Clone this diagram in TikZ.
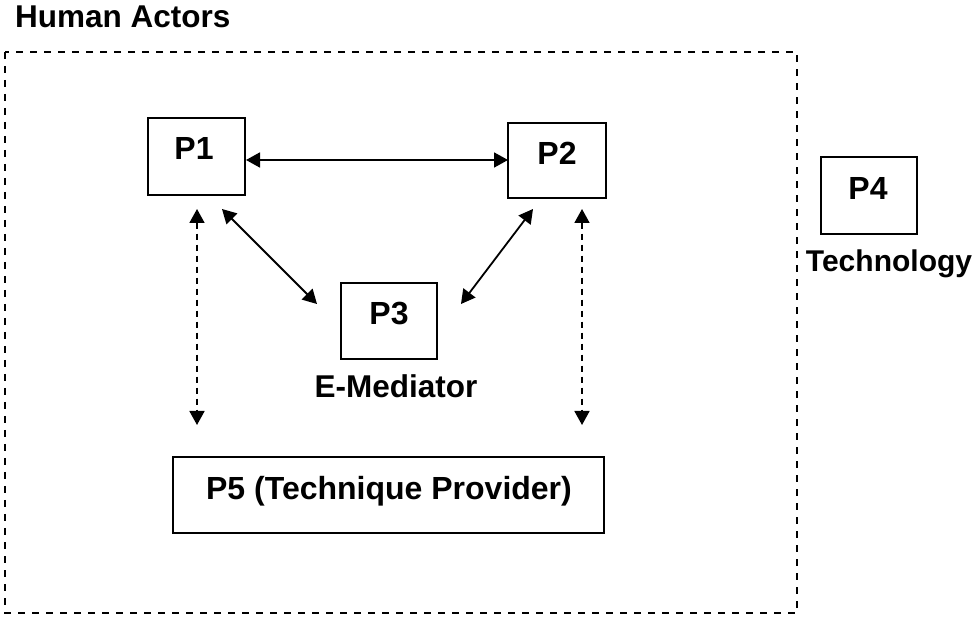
\documentclass[tikz,border=0pt]{standalone}
\usepackage{fontspec}
\setmainfont{Liberation Sans}
\usetikzlibrary{arrows.meta}
\tikzset{
  pbox/.style={draw=black, line width=1.8pt, inner sep=0pt, fill=white},
  lbl/.style={font=\fontsize{32}{38}\selectfont\bfseries, inner sep=0pt, anchor=base},
  dbl/.style={line width=1.8pt, {Triangle[length=14pt,width=15pt]}-{Triangle[length=14pt,width=15pt]}},
  dashdbl/.style={dbl, dash pattern=on 6pt off 5pt},
  frame/.style={draw=black, line width=1.8pt, dash pattern=on 7pt off 7pt}
}
\begin{document}
\begin{tikzpicture}[x=1pt,y=-1pt]
\useasboundingbox (0,0) rectangle (978,617);
% frame
\draw[frame] (5,52) rectangle (797,613);
\node[lbl, anchor=base west, font=\fontsize{31.5}{38}\selectfont\bfseries] (ha) at (15,28) {Human Actors};
% boxes
\node[pbox, minimum width=97pt, minimum height=77pt] (p1) at (196.5,156.5) {};
\node[lbl] (p1t) at (194,160) {P1};
\node[pbox, minimum width=98pt, minimum height=75pt] (p2) at (557,160.5) {};
\node[lbl] (p2t) at (557,165) {P2};
\node[pbox, minimum width=96pt, minimum height=76pt] (p3) at (389,321) {};
\node[lbl] (p3t) at (389,325) {P3};
\node[lbl, font=\fontsize{31.5}{38}\selectfont\bfseries] (em) at (396,398) {E-Mediator};
\node[pbox, minimum width=96pt, minimum height=77pt] (p4) at (869,195.5) {};
\node[lbl] (p4t) at (868,200) {P4};
\node[lbl, font=\fontsize{30}{36}\selectfont\bfseries] (tech) at (889,272) {Technology};
\node[pbox, minimum width=431pt, minimum height=76pt] (p5) at (388.5,495) {};
\node[lbl] (p5t) at (389,500) {P5 (Technique Provider)};
% connector endpoints
\coordinate (h1) at (246,160);
\coordinate (h2) at (508,160);
\coordinate (a1) at (222,209);
\coordinate (a2) at (317,304);
\coordinate (b1) at (533,209);
\coordinate (b2) at (461,304);
\coordinate (c1) at (197,209);
\coordinate (c2) at (197,425);
\coordinate (d1) at (582,209);
\coordinate (d2) at (582,425);
\draw[dbl] (h1) -- (h2);
\draw[dbl] (a1) -- (a2);
\draw[dbl] (b1) -- (b2);
\draw[dashdbl] (c1) -- (c2);
\draw[dashdbl] (d1) -- (d2);
\end{tikzpicture}
\end{document}
